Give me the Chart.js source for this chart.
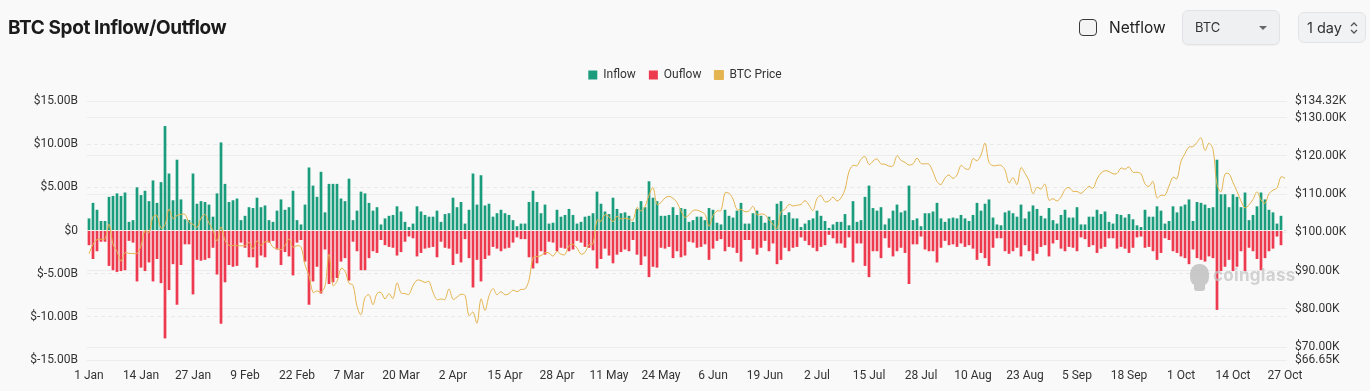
<!DOCTYPE html>
<html>
<head>
<meta charset="utf-8">
<script src="https://cdn.jsdelivr.net/npm/chart.js@4.4.1/dist/chart.umd.min.js"></script>
<style>
  html, body { margin:0; padding:0; background:#f9f9f9; width:1370px; height:391px; overflow:hidden; }
  #wrap { position:relative; width:1370px; height:391px; font-family: Inter, "Noto Sans", sans-serif; }
  #chart { position:absolute; left:0; top:0; }
  #title { position:absolute; left:8px; top:18px; font-weight:700; font-size:19px; line-height:19px; letter-spacing:-0.4px; color:#1b1b1b; white-space:nowrap; }
  #chk { position:absolute; left:1079px; top:19px; width:16px; height:15px; border:1.6px solid #3a3a3a; border-radius:4px; background:#f4f4f4; }
  #netflow { position:absolute; left:1109px; top:18px; font-size:15.5px; line-height:20px; color:#222; }
  #sel { position:absolute; left:1182px; top:10px; width:96px; height:33px; border:1px solid #e2e3e6; border-radius:6px; background:#eff0f2; box-shadow:0 1px 1px rgba(0,0,0,0.04); }
  #sel span { position:absolute; left:12px; top:9px; font-size:13px; line-height:15px; color:#333; }
  #sel i { position:absolute; left:76px; top:15px; width:0; height:0; border-left:4px solid transparent; border-right:4px solid transparent; border-top:4px solid #666; }
  #day { position:absolute; left:1298px; top:12px; width:66px; height:29px; border:1px solid #e3e4e7; border-radius:6px; background:#f1f2f4; }
  #day span { position:absolute; left:8px; top:6px; font-size:14.5px; line-height:17px; color:#333; }
  #day svg { position:absolute; left:50px; top:8px; }
  #wm { position:absolute; left:1188px; top:262px; opacity:0.75; pointer-events:none; }
  #wm .icon { position:absolute; left:2px; top:2px; width:19px; height:22px; background:#b9b9b9; border-radius:45% 45% 40% 40%; }
  #wm .icon2 { position:absolute; left:6px; top:20px; width:11px; height:9px; background:#b9b9b9; border-radius:3px; }
  #wm .txt { position:absolute; left:25px; top:3px; font-weight:700; font-size:17px; line-height:20px; color:#c4c4c4; letter-spacing:0.3px; }
</style>
</head>
<body>
<div id="wrap">
  <canvas id="chart" width="1370" height="391"></canvas>
  <div id="title">BTC Spot Inflow/Outflow</div>
  <div id="chk"></div>
  <div id="netflow">Netflow</div>
  <div id="sel"><span>BTC</span><i></i></div>
  <div id="day"><span>1 day</span>
    <svg width="10" height="14" viewBox="0 0 10 14"><path d="M2 5 L5 2 L8 5 M2 9 L5 12 L8 9" fill="none" stroke="#555" stroke-width="1.3"/></svg>
  </div>
  <div id="wm"><div class="icon"></div><div class="icon2"></div><div class="txt">coinglass</div></div>
</div>
<script>
// ---- Data ----
const tickLabels = ['1 Jan','14 Jan','27 Jan','9 Feb','22 Feb','7 Mar','20 Mar','2 Apr','15 Apr','28 Apr','11 May','24 May','6 Jun','19 Jun','2 Jul','15 Jul','28 Jul','10 Aug','23 Aug','5 Sep','18 Sep','1 Oct','14 Oct','27 Oct'];
const monthNames = ['Jan','Feb','Mar','Apr','May','Jun','Jul','Aug','Sep','Oct'];
const monthDays = [31,28,31,30,31,30,31,31,30,27];

// Inflow, $B
const inflow = [
1.4,3.2,2.4,1.1,1.1,3.9,4.0,4.3,4.0,4.4,1.0,1.2,5.0,4.1,4.6,3.4,5.8,3.2,5.6,12.1,6.6,3.5,8.2,3.6,1.3,1.2,6.6,3.1,3.4,3.3,3.0,1.6,4.3,10.2,5.4,3.3,3.5,3.7,1.2,1.7,2.7,2.6,3.8,
2.7,2.9,1.2,1.0,2.3,3.6,2.4,2.7,4.6,1.2,0.7,3.0,7.3,5.2,3.9,6.8,2.1,5.4,5.4,5.4,3.7,3.4,6.0,1.2,2.3,4.5,4.3,3.2,2.3,2.7,0.7,1.4,1.7,1.8,2.8,2.2,1.0,0.4,0.8,2.8,2.2,1.8,1.6,
1.6,2.3,1.0,1.9,2.0,3.8,2.7,3.3,0.8,2.4,6.6,3.0,6.4,2.9,3.1,1.6,2.0,2.4,2.0,1.8,1.2,0.5,0.8,0.8,3.3,4.6,3.3,2.0,3.0,0.8,0.9,2.4,1.6,1.8,2.5,1.8,0.8,1.0,1.6,1.7,2.0,4.5,3.1,
2.2,1.9,3.8,2.5,2.0,2.1,1.7,1.0,2.5,3.4,2.7,5.7,3.8,3.4,1.7,1.7,1.8,2.7,1.8,2.6,2.5,1.0,1.2,1.6,1.6,1.2,2.6,2.4,0.9,0.7,2.4,1.7,1.5,2.3,3.2,0.8,0.8,2.0,2.3,1.7,0.9,1.6,1.2,
3.1,3.4,1.8,2.1,1.4,1.4,0.4,0.8,1.2,1.4,2.3,1.7,1.1,0.3,0.7,1.0,1.0,1.9,0.6,3.4,1.0,1.2,3.9,5.2,2.6,2.3,2.7,0.7,1.4,2.3,3.0,2.1,2.3,5.2,1.2,1.4,0.5,2.0,2.0,2.2,3.2,1.4,1.0,
1.4,1.5,1.4,1.8,1.4,1.1,1.8,3.2,2.3,3.1,3.6,1.5,0.7,0.6,2.1,2.3,2.0,1.6,3.0,1.4,2.2,2.9,2.5,1.7,1.4,2.6,1.2,0.8,1.8,2.4,1.5,1.5,2.7,0.7,0.7,1.6,1.6,2.4,1.9,2.2,1.0,0.8,1.9,
1.8,1.5,1.9,1.3,0.6,0.4,2.4,1.6,1.6,2.8,2.3,0.8,1.1,2.8,2.1,2.8,3.0,3.6,1.1,3.3,3.2,3.0,2.6,2.7,8.2,4.2,4.2,2.7,4.2,3.9,2.7,4.4,1.2,1.8,2.8,4.4,3.6,2.4,2.1,0.8,1.7,0.05
];

// Outflow, $B (negative)
const outflow = [
-1.7,-3.3,-2.4,-1.3,-1.3,-4.1,-4.6,-4.8,-4.7,-4.6,-1.2,-1.4,-5.9,-4.3,-4.7,-3.7,-5.9,-3.3,-6.1,-12.5,-6.9,-3.9,-8.6,-4.0,-1.6,-1.6,-7.4,-3.4,-3.5,-3.4,-3.2,-2.0,-5.1,-10.8,-6.0,-4.0,-4.2,-4.1,-1.4,-2.0,-3.1,-3.1,-4.3,
-2.9,-3.1,-1.4,-1.2,-2.2,-4.0,-2.5,-3.0,-5.2,-1.4,-1.1,-3.6,-8.6,-5.9,-4.2,-7.3,-2.2,-6.2,-6.0,-5.5,-3.6,-3.2,-5.8,-1.3,-2.4,-4.6,-4.6,-3.2,-2.4,-2.6,-1.1,-1.7,-1.9,-2.0,-2.9,-2.5,-1.3,-0.7,-0.9,-3.0,-2.6,-2.1,-2.0,
-1.9,-3.1,-1.3,-2.0,-2.1,-4.0,-2.7,-3.7,-1.0,-3.2,-6.6,-3.4,-5.9,-3.3,-2.9,-1.9,-2.1,-2.4,-2.1,-2.0,-1.4,-0.8,-1.0,-1.0,-3.1,-4.4,-3.8,-2.4,-2.8,-1.3,-1.4,-2.4,-2.0,-2.1,-2.4,-2.2,-1.2,-1.4,-1.9,-2.0,-2.3,-4.4,-3.3,
-2.1,-2.9,-3.8,-2.8,-2.5,-2.2,-2.4,-1.1,-2.8,-4.0,-3.0,-5.4,-4.2,-4.3,-2.0,-2.1,-1.9,-3.2,-2.4,-3.1,-2.9,-1.3,-1.4,-2.0,-1.9,-1.6,-3.4,-2.1,-1.2,-1.0,-2.4,-1.9,-2.0,-2.6,-3.6,-1.1,-1.1,-2.1,-2.8,-2.0,-1.2,-2.4,-1.5,
-3.9,-3.4,-2.0,-2.4,-2.0,-1.9,-0.8,-1.2,-1.7,-2.0,-2.4,-1.9,-1.7,-0.5,-0.9,-1.5,-1.5,-2.0,-0.8,-3.7,-1.5,-1.5,-4.1,-5.4,-2.4,-2.4,-3.2,-0.9,-2.0,-3.0,-2.4,-2.0,-2.6,-6.2,-1.6,-1.6,-0.7,-2.2,-2.4,-2.4,-3.7,-2.0,-1.2,
-1.7,-1.6,-1.9,-1.5,-1.9,-1.7,-2.1,-3.4,-2.6,-3.2,-4.1,-2.0,-0.9,-0.9,-2.4,-2.7,-2.4,-2.0,-3.0,-1.7,-2.4,-3.5,-2.7,-1.9,-1.7,-3.0,-1.5,-1.1,-2.1,-2.4,-1.9,-2.0,-2.4,-0.8,-1.0,-1.9,-1.7,-2.6,-2.1,-1.9,-0.9,-0.9,-2.1,
-1.9,-2.1,-2.6,-2.0,-0.8,-0.7,-2.0,-1.9,-2.4,-3.4,-2.6,-0.9,-1.1,-2.4,-2.6,-3.0,-3.2,-3.9,-2.2,-3.2,-3.4,-3.6,-3.0,-3.2,-9.2,-4.7,-4.2,-3.4,-4.7,-4.2,-2.4,-4.7,-2.0,-2.4,-3.3,-4.6,-3.2,-2.4,-2.1,-0.7,-1.7,-0.05
];

// BTC price, $K
const price = [
// Jan
94.4,96.9,98.1,98.2,98.3,102.1,96.9,95.0,92.5,94.7,94.5,94.5,94.5,96.5,100.5,99.9,104.1,104.4,101.1,102.0,106.1,103.6,104.4,104.7,104.7,102.6,102.1,101.3,103.7,104.7,102.4,
// Feb
100.6,97.7,101.4,97.9,96.6,96.6,96.5,96.5,96.5,97.4,95.7,97.8,96.6,97.5,97.6,96.1,95.8,95.5,96.6,98.3,96.1,96.5,96.2,91.5,88.7,84.3,84.7,84.4,
// Mar
86.0,94.3,86.1,87.2,90.6,89.9,86.7,86.2,80.7,78.5,82.9,83.7,81.1,84.0,84.3,82.6,84.0,82.7,86.8,84.2,84.0,83.8,86.1,87.5,87.4,86.9,87.2,84.3,82.4,82.6,82.5,
// Apr
85.2,82.5,83.1,83.8,83.5,78.2,79.2,76.3,82.6,79.6,83.4,85.3,83.7,84.5,83.7,84.0,84.9,84.5,85.1,85.2,87.5,93.4,93.7,93.9,94.7,94.6,93.8,95.0,94.3,94.2,
// May
96.5,96.9,95.9,94.3,94.8,96.8,97.0,103.2,102.9,104.6,104.1,102.8,104.2,103.5,103.7,103.5,103.2,106.5,105.6,106.8,109.7,111.7,107.3,107.8,109.0,109.4,108.9,107.8,105.6,103.9,104.6,
// Jun
105.7,105.8,105.4,104.7,101.6,104.4,105.6,105.7,110.3,110.2,108.7,105.9,106.0,105.4,105.6,106.8,104.6,104.8,104.6,103.3,102.1,100.9,105.4,106.0,107.3,106.9,107.1,107.3,108.3,107.1,
// Jul
105.7,108.8,109.6,108.0,108.2,109.2,108.2,109.0,111.2,115.9,117.5,117.4,119.1,119.8,117.7,118.6,119.2,117.9,117.8,117.3,117.4,120.0,118.8,118.3,117.6,117.9,119.4,118.0,117.9,117.8,115.8,
// Aug
113.3,112.5,114.2,115.0,114.1,115.0,117.5,116.7,116.5,119.3,118.7,120.2,123.3,118.3,117.4,117.5,117.5,116.3,112.9,114.3,112.5,116.9,115.4,113.5,110.1,111.8,111.3,112.6,108.4,108.8,108.2,
// Sep
109.2,111.2,111.7,110.7,110.7,110.2,111.1,112.0,111.5,113.9,115.5,116.1,115.9,115.3,115.4,116.8,116.5,117.1,115.7,115.7,115.3,112.7,112.0,113.3,109.0,109.7,109.7,112.1,114.4,114.0,
// Oct
118.6,120.6,122.3,122.4,123.5,124.7,121.4,123.3,121.7,112.5,110.6,115.2,115.3,113.0,110.7,108.2,106.4,107.2,108.6,110.6,108.5,107.6,110.1,111.0,111.6,114.5,114.1
];

const leftTicks = [-15,-10,-5,0,5,10,15];
const rightTicks = [66.65,70,80,90,100,110,120,130,134.32];

// category labels: one per day
const categories = [];
monthNames.forEach((m, mi) => { for (let d = 1; d <= monthDays[mi]; d++) categories.push(d + ' ' + m); });

const GREEN = '#1b9c7d', RED = '#ee3a4e', GOLD = '#e4b450';
const tickFont = { family: 'Roboto, "Noto Sans", sans-serif', size: 12 };

const legendSpace = {
  id: 'legendSpace',
  beforeInit(chart) {
    const orig = chart.legend.fit;
    chart.legend.fit = function () { orig.call(this); this.height += 10; };
  }
};

new Chart(document.getElementById('chart'), {
  type: 'bar',
  data: {
    labels: categories,
    datasets: [
      { label: 'Inflow', data: inflow, backgroundColor: GREEN, borderWidth: 0, yAxisID: 'y', order: 1,
        barPercentage: 0.68, categoryPercentage: 1.0 },
      { label: 'Ouflow', data: outflow, backgroundColor: RED, borderWidth: 0, yAxisID: 'y', order: 1,
        barPercentage: 0.68, categoryPercentage: 1.0 },
      { type: 'line', label: 'BTC Price', data: price, borderColor: GOLD, backgroundColor: GOLD,
        borderWidth: 1, pointRadius: 0, tension: 0.35, yAxisID: 'y1', order: 0 }
    ]
  },
  options: {
    responsive: false,
    animation: false,
    devicePixelRatio: 1,
    layout: { padding: { top: 56, left: 0, right: 0, bottom: 0 } },
    plugins: {
      legend: {
        position: 'top', align: 'center',
        labels: { boxWidth: 9, boxHeight: 9, padding: 13, color: '#333',
          font: { family: 'Roboto, "Noto Sans", sans-serif', size: 12 },
          sort: (a, b) => a.datasetIndex - b.datasetIndex }
      },
      tooltip: { enabled: false }
    },
    scales: {
      x: {
        stacked: true,
        grid: { display: false, drawTicks: false },
        border: { display: false },
        ticks: {
          autoSkip: false, maxRotation: 0, minRotation: 0, padding: 9, color: '#333', font: tickFont,
          callback: function (v, i) { const l = categories[i]; return tickLabels.includes(l) ? l : ''; }
        },
        afterFit(s) { s.height = 31; }
      },
      y: {
        position: 'left', stacked: true, min: -15, max: 15,
        afterBuildTicks(s) { s.ticks = leftTicks.map(v => ({ value: v })); },
        ticks: { padding: 9, color: '#333', font: tickFont,
          callback: v => v === 0 ? '$0' : '$' + v.toFixed(2) + 'B' },
        grid: { color: '#e9e9e9', drawTicks: false, lineWidth: 1 },
        border: { display: false, dash: [4, 3] },
        afterFit(s) { s.width = 87; }
      },
      y1: {
        position: 'right', min: 66.65, max: 134.32,
        afterBuildTicks(s) { s.ticks = rightTicks.map(v => ({ value: v })); },
        ticks: { padding: 8, color: '#333', font: tickFont,
          callback: v => '$' + v.toFixed(2) + 'K' },
        grid: { color: '#ededed', drawTicks: false, lineWidth: 1 },
        border: { display: false },
        afterFit(s) { s.width = 83; }
      }
    }
  },
  plugins: [legendSpace]
});
</script>
</body>
</html>
